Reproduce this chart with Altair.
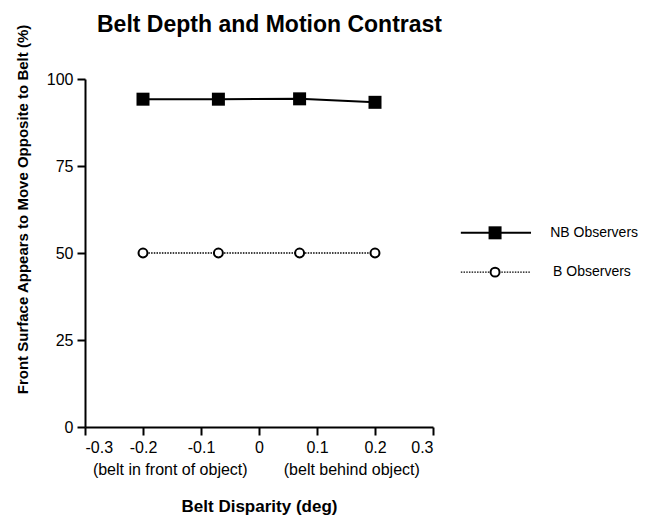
import altair as alt
import pandas as pd

# ---- data ----
disparity = [-0.2, -0.07, 0.07, 0.2]
nb_values = [94.2, 94.2, 94.3, 93.3]
b_values = [50, 50, 50, 50]
x_ticks = [-0.3, -0.2, -0.1, 0, 0.1, 0.2, 0.3]
y_ticks = [0, 25, 50, 75, 100]

series_names = ["NB Observers", "B Observers"]
legend_y = [55.8, 44.5]
legend_line_start = [0.348, 0.348]
legend_line_end = [0.469, 0.469]
legend_marker_x = [0.407, 0.407]
legend_label_x = [0.502, 0.507]

note_labels = ["(belt in front of object)", "(belt behind object)"]
note_x = [-0.153, 0.160]
note_y = [-12.4, -12.4]

FONT = "Liberation Sans"

df = pd.DataFrame({
    "disparity": disparity * 2,
    "value": nb_values + b_values,
    "series": [series_names[0]] * len(disparity) + [series_names[1]] * len(disparity),
})
legend_df = pd.DataFrame({
    "series": series_names,
    "y": legend_y,
    "x1": legend_line_start,
    "x2": legend_line_end,
    "xm": legend_marker_x,
    "xl": legend_label_x,
})
notes_df = pd.DataFrame({"label": note_labels, "x": note_x, "y": note_y})

xscale = alt.Scale(domain=[-0.3, 0.3], nice=False, zero=False)
yscale = alt.Scale(domain=[0, 100], nice=False, zero=False)

xaxis = alt.Axis(
    title="Belt Disparity (deg)", values=x_ticks, labelExpr="'' + datum.value",
    grid=False, titleY=84, titleX=174, titleBaseline="alphabetic", titleAlign="center",
    titleFontSize=17,
)
yaxis = alt.Axis(
    title="Front Surface Appears to Move Opposite to Belt (%)", values=y_ticks,
    grid=False, titleX=-63, titleY=130, titleBaseline="middle", titleAlign="center",
    titleAngle=270, titleFontSize=15,
)


def X(field):
    return alt.X(f"{field}:Q", scale=xscale, axis=xaxis)


def Y(field):
    return alt.Y(f"{field}:Q", scale=yscale, axis=yaxis)


base = alt.Chart(df)
nb = base.transform_filter(alt.datum.series == series_names[0])
b = base.transform_filter(alt.datum.series == series_names[1])

nb_line = nb.mark_line(color="black", strokeWidth=2).encode(x=X("disparity"), y=Y("value"))
nb_pts = nb.mark_point(shape="square", filled=True, color="black", size=169, opacity=1).encode(
    x=X("disparity"), y=Y("value"))
b_line = b.mark_line(color="black", strokeWidth=1.3, strokeDash=[1.5, 1.2]).encode(
    x=X("disparity"), y=Y("value"))
b_pts = b.mark_point(shape="circle", filled=True, fill="white", stroke="black",
                     strokeWidth=2, size=80, opacity=1).encode(x=X("disparity"), y=Y("value"))

leg = alt.Chart(legend_df)
leg_nb = leg.transform_filter(alt.datum.series == series_names[0])
leg_b = leg.transform_filter(alt.datum.series == series_names[1])
leg_nb_line = leg_nb.mark_rule(color="black", strokeWidth=2).encode(x=X("x1"), x2="x2:Q", y=Y("y"))
leg_b_line = leg_b.mark_rule(color="black", strokeWidth=1.3, strokeDash=[1.5, 1.2]).encode(
    x=X("x1"), x2="x2:Q", y=Y("y"))
leg_nb_pt = leg_nb.mark_point(shape="square", filled=True, color="black", size=169, opacity=1).encode(
    x=X("xm"), y=Y("y"))
leg_b_pt = leg_b.mark_point(shape="circle", filled=True, fill="white", stroke="black",
                            strokeWidth=2, size=80, opacity=1).encode(x=X("xm"), y=Y("y"))
leg_text = leg.mark_text(align="left", baseline="middle", font=FONT, fontSize=14, color="black").encode(
    x=X("xl"), y=Y("y"), text="series:N")

notes = alt.Chart(notes_df).mark_text(align="center", baseline="middle", font=FONT,
                                      fontSize=16, color="black").encode(
    x=X("x"), y=Y("y"), text="label:N")

chart = alt.layer(
    nb_line, nb_pts, b_line, b_pts,
    leg_nb_line, leg_b_line, leg_nb_pt, leg_b_pt, leg_text, notes,
).properties(
    width=348, height=348,
    title=alt.TitleParams("Belt Depth and Motion Contrast", anchor="start", frame="group",
                          dx=12, offset=0, dy=31, fontSize=23, font=FONT, fontWeight="bold",
                          color="black", baseline="alphabetic"),
    autosize=alt.AutoSizeParams(type="none"),
    padding={"left": 77, "top": 71, "right": 222, "bottom": 88},
).configure_view(stroke=None).configure_axis(
    domainColor="black", domainWidth=2, tickColor="black", tickWidth=2, tickSize=8,
    labelColor="black", labelFont=FONT, labelFontSize=16, labelPadding=4,
    titleColor="black", titleFont=FONT, titleFontWeight="bold",
)

chart.save("out.html", embed_options={"renderer": "svg", "actions": False})
